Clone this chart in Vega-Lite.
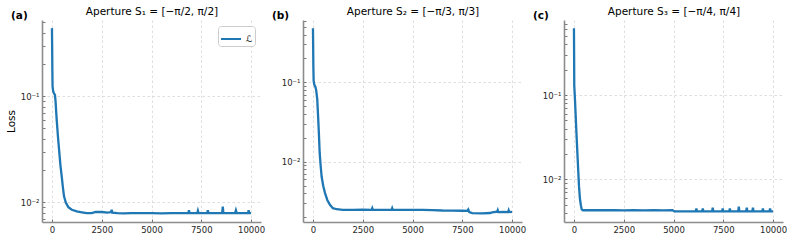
{
  "$schema": "https://vega.github.io/schema/vega-lite/v6.json",
  "padding": {"left": 6, "top": 6, "right": 5, "bottom": 3},
  "bounds": "flush",
  "spacing": 42,
  "resolve": {"legend": {"color": "independent"}},
  "datasets": {
    "a": [
      {"it": 0, "loss": 0.44}, {"it": 10, "loss": 0.3}, {"it": 20, "loss": 0.18}, {"it": 30, "loss": 0.125},
      {"it": 60, "loss": 0.112}, {"it": 100, "loss": 0.107}, {"it": 150, "loss": 0.103}, {"it": 180, "loss": 0.09},
      {"it": 237, "loss": 0.0607}, {"it": 300, "loss": 0.042}, {"it": 369, "loss": 0.0296}, {"it": 430, "loss": 0.022},
      {"it": 490, "loss": 0.0176}, {"it": 550, "loss": 0.0138}, {"it": 606, "loss": 0.0114}, {"it": 700, "loss": 0.0099},
      {"it": 823, "loss": 0.009}, {"it": 1000, "loss": 0.0085}, {"it": 1247, "loss": 0.0082}, {"it": 1500, "loss": 0.00805},
      {"it": 1750, "loss": 0.0079}, {"it": 2000, "loss": 0.0079}, {"it": 2200, "loss": 0.0081}, {"it": 2500, "loss": 0.0081},
      {"it": 2800, "loss": 0.008}, {"it": 2970, "loss": 0.0081}, {"it": 3000, "loss": 0.0085}, {"it": 3030, "loss": 0.008},
      {"it": 3300, "loss": 0.0079}, {"it": 3600, "loss": 0.00785}, {"it": 4000, "loss": 0.0079}, {"it": 4500, "loss": 0.0079},
      {"it": 5000, "loss": 0.0079}, {"it": 5500, "loss": 0.00785}, {"it": 6000, "loss": 0.0079}, {"it": 6500, "loss": 0.0079},
      {"it": 6850, "loss": 0.0079}, {"it": 6880, "loss": 0.0084}, {"it": 6910, "loss": 0.0079}, {"it": 7300, "loss": 0.0079},
      {"it": 7330, "loss": 0.0083}, {"it": 7360, "loss": 0.0079}, {"it": 7800, "loss": 0.0079}, {"it": 7830, "loss": 0.0084},
      {"it": 7860, "loss": 0.0079}, {"it": 8550, "loss": 0.0079}, {"it": 8580, "loss": 0.0091}, {"it": 8610, "loss": 0.0079},
      {"it": 9200, "loss": 0.0079}, {"it": 9240, "loss": 0.0084}, {"it": 9280, "loss": 0.0079}, {"it": 9850, "loss": 0.0079},
      {"it": 9880, "loss": 0.0084}, {"it": 9910, "loss": 0.0079}, {"it": 10000, "loss": 0.0079}
    ],
    "b": [
      {"it": 0, "loss": 0.48}, {"it": 10, "loss": 0.3}, {"it": 20, "loss": 0.16}, {"it": 35, "loss": 0.105},
      {"it": 60, "loss": 0.095}, {"it": 120, "loss": 0.088}, {"it": 160, "loss": 0.08}, {"it": 216, "loss": 0.061},
      {"it": 266, "loss": 0.034}, {"it": 300, "loss": 0.022}, {"it": 337, "loss": 0.013}, {"it": 390, "loss": 0.0087},
      {"it": 437, "loss": 0.00646}, {"it": 520, "loss": 0.0049}, {"it": 603, "loss": 0.00405}, {"it": 720, "loss": 0.0033},
      {"it": 854, "loss": 0.00286}, {"it": 1000, "loss": 0.0026}, {"it": 1191, "loss": 0.00252}, {"it": 1500, "loss": 0.00248},
      {"it": 2000, "loss": 0.00247}, {"it": 2500, "loss": 0.00249}, {"it": 2950, "loss": 0.00248}, {"it": 2980, "loss": 0.0026},
      {"it": 3010, "loss": 0.00248}, {"it": 3500, "loss": 0.00248}, {"it": 3950, "loss": 0.00248}, {"it": 3980, "loss": 0.0026},
      {"it": 4010, "loss": 0.00248}, {"it": 4500, "loss": 0.00247}, {"it": 5000, "loss": 0.00248}, {"it": 5500, "loss": 0.00247},
      {"it": 6000, "loss": 0.00246}, {"it": 6500, "loss": 0.00243}, {"it": 7000, "loss": 0.00242}, {"it": 7500, "loss": 0.00241},
      {"it": 7750, "loss": 0.0024}, {"it": 7800, "loss": 0.0025}, {"it": 7850, "loss": 0.00232}, {"it": 8000, "loss": 0.00225},
      {"it": 8500, "loss": 0.00223}, {"it": 8900, "loss": 0.00226}, {"it": 9000, "loss": 0.0023}, {"it": 9250, "loss": 0.00235},
      {"it": 9280, "loss": 0.00245}, {"it": 9310, "loss": 0.00232}, {"it": 9600, "loss": 0.00233}, {"it": 9800, "loss": 0.00232},
      {"it": 9830, "loss": 0.00244}, {"it": 9860, "loss": 0.00232}, {"it": 10000, "loss": 0.00233}
    ],
    "c": [
      {"it": 0, "loss": 0.62}, {"it": 8, "loss": 0.3}, {"it": 15, "loss": 0.13}, {"it": 50, "loss": 0.09},
      {"it": 116, "loss": 0.0394}, {"it": 187, "loss": 0.0173}, {"it": 253, "loss": 0.0083}, {"it": 303, "loss": 0.0058},
      {"it": 350, "loss": 0.0049}, {"it": 389, "loss": 0.0044}, {"it": 450, "loss": 0.0043}, {"it": 600, "loss": 0.0043},
      {"it": 1000, "loss": 0.00432}, {"it": 1500, "loss": 0.0043}, {"it": 2000, "loss": 0.0043}, {"it": 2500, "loss": 0.00428},
      {"it": 3000, "loss": 0.0043}, {"it": 3500, "loss": 0.00428}, {"it": 4000, "loss": 0.0043}, {"it": 4500, "loss": 0.00428},
      {"it": 4950, "loss": 0.0043}, {"it": 5050, "loss": 0.00417}, {"it": 5500, "loss": 0.00417}, {"it": 6120, "loss": 0.00418},
      {"it": 6150, "loss": 0.0045}, {"it": 6180, "loss": 0.00418}, {"it": 6440, "loss": 0.00418}, {"it": 6470, "loss": 0.0045},
      {"it": 6500, "loss": 0.00418}, {"it": 6940, "loss": 0.00418}, {"it": 6970, "loss": 0.0046}, {"it": 7000, "loss": 0.00418},
      {"it": 7440, "loss": 0.00418}, {"it": 7470, "loss": 0.0045}, {"it": 7500, "loss": 0.00418}, {"it": 7800, "loss": 0.00418},
      {"it": 7830, "loss": 0.0045}, {"it": 7860, "loss": 0.00418}, {"it": 8250, "loss": 0.00418}, {"it": 8280, "loss": 0.00474},
      {"it": 8310, "loss": 0.00418}, {"it": 8650, "loss": 0.00418}, {"it": 8680, "loss": 0.0046}, {"it": 8710, "loss": 0.00418},
      {"it": 8960, "loss": 0.00418}, {"it": 8990, "loss": 0.0046}, {"it": 9020, "loss": 0.00418}, {"it": 9460, "loss": 0.00418},
      {"it": 9490, "loss": 0.0045}, {"it": 9520, "loss": 0.00418}, {"it": 9820, "loss": 0.00418}, {"it": 9850, "loss": 0.0045},
      {"it": 9880, "loss": 0.00418}, {"it": 10000, "loss": 0.00418}
    ]
  },
  "hconcat": [
    {
      "width": 219, "height": 202,
      "title": {"text": "(a)"},
      "data": {"name": "a"},
      "mark": {"type": "line", "strokeWidth": 2.3, "clip": true},
      "encoding": {
        "x": {"field": "it", "type": "quantitative", "scale": {"domain": [-500, 10500], "nice": false, "zero": false},
              "axis": {"values": [0, 2500, 5000, 7500, 10000], "format": "d", "title": "Aperture S₁ = [−π/2, π/2]"}},
        "y": {"field": "loss", "type": "quantitative", "scale": {"type": "log", "domain": [0.00652, 0.525], "nice": false},
              "axis": {"title": "Loss", "titleFontSize": 10.5, "titlePadding": 4,
                       "values": [0.007, 0.008, 0.009, 0.01, 0.02, 0.03, 0.04, 0.05, 0.06, 0.07, 0.08, 0.09, 0.1, 0.2, 0.3, 0.4, 0.5],
                       "labelExpr": "datum.value == 0.1 ? '10⁻¹' : datum.value == 0.01 ? '10⁻²' : ''",
                       "gridOpacity": {"condition": {"test": "datum.value == 0.1 || datum.value == 0.01", "value": 1}, "value": 0}}},
        "color": {"datum": "ℒ", "type": "nominal", "scale": {"range": ["#1f77b4"]},
                  "legend": {"title": null, "orient": "top-right", "offset": 6}}
      }
    },
    {
      "width": 219, "height": 202,
      "title": {"text": "(b)"},
      "data": {"name": "b"},
      "mark": {"type": "line", "strokeWidth": 2.3, "color": "#1f77b4", "clip": true},
      "encoding": {
        "x": {"field": "it", "type": "quantitative", "scale": {"domain": [-500, 10500], "nice": false, "zero": false},
              "axis": {"values": [0, 2500, 5000, 7500, 10000], "format": "d", "title": "Aperture S₂ = [−π/3, π/3]"}},
        "y": {"field": "loss", "type": "quantitative", "scale": {"type": "log", "domain": [0.00174, 0.61], "nice": false},
              "axis": {"title": null,
                       "values": [0.002, 0.003, 0.004, 0.005, 0.006, 0.007, 0.008, 0.009, 0.01, 0.02, 0.03, 0.04, 0.05, 0.06, 0.07, 0.08, 0.09, 0.1, 0.2, 0.3, 0.4, 0.5, 0.6],
                       "labelExpr": "datum.value == 0.1 ? '10⁻¹' : datum.value == 0.01 ? '10⁻²' : ''",
                       "gridOpacity": {"condition": {"test": "datum.value == 0.1 || datum.value == 0.01", "value": 1}, "value": 0}}}
      }
    },
    {
      "width": 219, "height": 202,
      "title": {"text": "(c)"},
      "data": {"name": "c"},
      "mark": {"type": "line", "strokeWidth": 2.3, "color": "#1f77b4", "clip": true},
      "encoding": {
        "x": {"field": "it", "type": "quantitative", "scale": {"domain": [-500, 10500], "nice": false, "zero": false},
              "axis": {"values": [0, 2500, 5000, 7500, 10000], "format": "d", "title": "Aperture S₃ = [−π/4, π/4]"}},
        "y": {"field": "loss", "type": "quantitative", "scale": {"type": "log", "domain": [0.00312, 0.776], "nice": false},
              "axis": {"title": null,
                       "values": [0.004, 0.005, 0.006, 0.007, 0.008, 0.009, 0.01, 0.02, 0.03, 0.04, 0.05, 0.06, 0.07, 0.08, 0.09, 0.1, 0.2, 0.3, 0.4, 0.5, 0.6, 0.7],
                       "labelExpr": "datum.value == 0.1 ? '10⁻¹' : datum.value == 0.01 ? '10⁻²' : ''",
                       "gridOpacity": {"condition": {"test": "datum.value == 0.1 || datum.value == 0.01", "value": 1}, "value": 0}}}
      }
    }
  ],
  "config": {
    "font": "DejaVu Sans",
    "view": {"stroke": null},
    "axis": {
      "labelFont": "DejaVu Sans", "labelFontSize": 8.5, "labelColor": "#262626", "labelPadding": 6,
      "domainColor": "#8c8c8c", "domainWidth": 1.6,
      "tickColor": "#555555", "tickSize": -3, "tickWidth": 0.8,
      "gridDash": [2.5, 2.5], "gridWidth": 0.8,
      "titleFont": "DejaVu Sans", "titleFontWeight": "normal", "titleColor": "#000000"
    },
    "axisX": {
      "gridColor": "#d6d6d6",
      "titleFontSize": 10.5, "titleY": -208, "titleAnchor": "middle", "titleBaseline": "alphabetic"
    },
    "axisY": {"gridColor": "#d6d6d6"},
    "title": {"font": "DejaVu Sans", "fontSize": 10.5, "fontWeight": "bold", "color": "#000000",
              "anchor": "start", "frame": "group", "dx": -31, "offset": -15},
    "legend": {
      "padding": 2, "strokeColor": "#cccccc", "cornerRadius": 3, "fillColor": "#ffffff",
      "symbolType": "stroke", "symbolSize": 400, "symbolStrokeWidth": 2, "labelFontSize": 9, "labelOffset": 4
    }
  }
}
